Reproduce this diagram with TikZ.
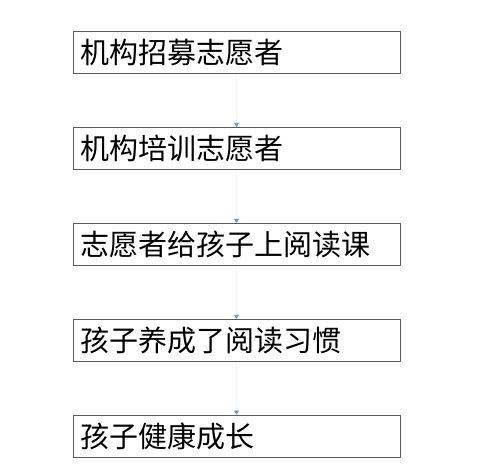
\documentclass[tikz,border=0pt]{standalone}
\usepackage{fontspec}
\newfontfamily\cjk{Noto Sans CJK SC}
\usetikzlibrary{positioning, arrows.meta}
\definecolor{tipblue}{RGB}{91,155,213}

\begin{document}
\begin{tikzpicture}[
x=1pt, y=1pt,
% node style
stepbox/.style={draw=black!65, line width=0.9pt, minimum width=327pt, minimum height=42pt,
  text width=313pt, inner xsep=7pt, inner ysep=0pt, align=left,
  font=\cjk\fontsize{29}{32}\selectfont},
flow/.style={draw=black!4, line width=0.6pt, -{Triangle[width=5pt, length=4pt, color=tipblue]}},
node distance=53pt
]
\useasboundingbox (0,0) rectangle (498,-475);

% nodes
\node[stepbox] (recruit) at (236.5,-52.5) {机构招募志愿者};
\node[stepbox] (train) [below=of recruit] {机构培训志愿者};
\node[stepbox] (teach) [below=of train] {志愿者给孩子上阅读课};
\node[stepbox] (habit) [below=of teach] {孩子养成了阅读习惯};
\node[stepbox] (grow) [below=of habit] {孩子健康成长};

% draw lines between nodes
\draw[flow] (recruit.south) -- (train.north);
\draw[flow] (train.south) -- (teach.north);
\draw[flow] (teach.south) -- (habit.north);
\draw[flow] (habit.south) -- (grow.north);

\end{tikzpicture}
\end{document}
